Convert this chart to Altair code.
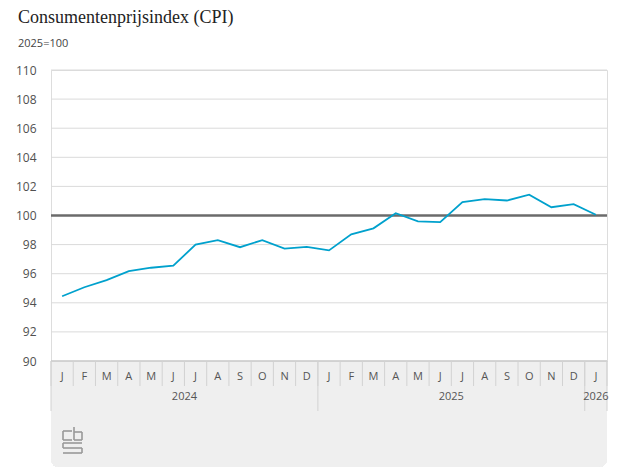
import altair as alt
import pandas as pd

months = ["J", "F", "M", "A", "M", "J", "J", "A", "S", "O", "N", "D",
          "J", "F", "M", "A", "M", "J", "J", "A", "S", "O", "N", "D",
          "J"]
years = [2024] * 12 + [2025] * 12 + [2026]
cpi = [94.45, 95.07, 95.56, 96.18, 96.41, 96.55, 98.0, 98.31, 97.82, 98.31, 97.73, 97.85,
       97.6, 98.71, 99.12, 100.16, 99.59, 99.54, 100.92, 101.13, 101.03, 101.43, 100.57, 100.78,
       100.05]
y_ticks = [90, 92, 94, 96, 98, 100, 102, 104, 106, 108, 110]

W, H = 556, 291
FONT = "Open Sans"

df = pd.DataFrame({"idx": list(range(len(months))), "month": months,
                   "year": years, "cpi": cpi})

# boundaries between months and years
bounds = pd.DataFrame({"b": [i - 0.5 for i in range(len(months) + 1)]})
year_bounds = [-0.5] + [i - 0.5 for i in range(1, len(years)) if years[i] != years[i - 1]] + [len(years) - 0.5]
ybounds = pd.DataFrame({"b": year_bounds})
ylab = df.groupby("year", as_index=False)["idx"].mean()
ylab["label"] = ylab["year"].astype(str)

xs = alt.Scale(domain=[-0.5, len(months) - 0.5], nice=False, zero=False)
ys = alt.Scale(domain=[90, 110], nice=False, zero=False)
y_axis = alt.Axis(values=y_ticks, title=None, labelAlign="right",
                  labelPadding=15, ticks=False, tickSize=0, domain=False,
                  grid=False, labelFont=FONT, labelFontSize=12,
                  labelOverlap=False, labelBaseline="middle",
                  labelColor="#505050")

base = alt.Chart(df)

bg = base.mark_rect(fill="#efefef", cornerRadiusBottomLeft=8,
                    cornerRadiusBottomRight=8).encode(
    x=alt.value(0), x2=alt.value(W), y=alt.value(H), y2=alt.value(H + 106))

grid = alt.Chart(pd.DataFrame({"v": y_ticks})).mark_rule(
    color="#dadada", strokeWidth=1).encode(
    y=alt.Y("v:Q", scale=ys, axis=y_axis),
    x=alt.value(0), x2=alt.value(W))

bottom = alt.Chart(pd.DataFrame({"v": [90]})).mark_rule(
    color="#bdbdbd", strokeWidth=1.2).encode(
    y=alt.Y("v:Q", scale=ys, axis=y_axis), x=alt.value(0), x2=alt.value(W))

msep = alt.Chart(bounds).mark_rule(color="#d2d2d2", strokeWidth=1).encode(
    x=alt.X("b:Q", scale=xs, axis=None), y=alt.value(H), y2=alt.value(H + 25))

ysep = alt.Chart(ybounds).mark_rule(color="#d2d2d2", strokeWidth=1).encode(
    x=alt.X("b:Q", scale=xs, axis=None), y=alt.value(H), y2=alt.value(H + 50))

mlab = base.mark_text(font=FONT, fontSize=11, color="#555555",
                      baseline="middle").encode(
    x=alt.X("idx:Q", scale=xs, axis=None), y=alt.value(H + 16), text="month:N")

yrlab = alt.Chart(ylab).mark_text(font=FONT, fontSize=11, color="#555555",
                                  baseline="middle").encode(
    x=alt.X("idx:Q", scale=xs, axis=None), y=alt.value(H + 36), text="label:N")

ref = alt.Chart(pd.DataFrame({"v": [100]})).mark_rule(
    color="#6b6b6b", strokeWidth=2.5).encode(
    y=alt.Y("v:Q", scale=ys, axis=y_axis), x=alt.value(0), x2=alt.value(W))

line = base.mark_line(color="#00a1cd", strokeWidth=1.8).encode(
    x=alt.X("idx:Q", scale=xs, axis=None),
    y=alt.Y("cpi:Q", scale=ys, axis=y_axis))

title = alt.Chart(pd.DataFrame({"t": ["Consumentenprijsindex (CPI)"]})).mark_text(
    font="Liberation Serif", fontSize=18, color="#222222", align="left",
    baseline="top").encode(x=alt.value(-33), y=alt.value(-61), text="t:N")

sub = alt.Chart(pd.DataFrame({"t": ["2025=100"]})).mark_text(
    font=FONT, fontSize=11, color="#444444", align="left",
    baseline="middle").encode(x=alt.value(-33), y=alt.value(-26.5), text="t:N")

# cbs logo (decorative)
logo_segments = [
    (63, 431, 72, 431), (63, 431, 63, 440), (63, 440, 72, 440),
    (74, 427, 74, 440), (74, 432, 82, 432), (82, 432, 82, 440), (74, 440, 82, 440),
    (63, 443, 82, 443), (63, 443, 63, 448), (63, 448, 82, 448),
    (82, 448, 82, 453), (63, 453, 82, 453),
]
logo_layers = []
for (x1, y1, x2, y2) in logo_segments:
    logo_layers.append(
        alt.Chart(pd.DataFrame({"a": [0]})).mark_rule(
            color="#999999", strokeWidth=1.6).encode(
            x=alt.value(x1 - 51), x2=alt.value(x2 - 51),
            y=alt.value(y1 - 70), y2=alt.value(y2 - 70)))

chart = alt.layer(bg, grid, bottom, msep, ysep, mlab, yrlab, ref, line,
                  title, sub, *logo_layers).properties(
    width=W, height=H,
    autosize=alt.AutoSizeParams(type="none"),
    padding={"left": 43, "top": 62, "right": 8, "bottom": 110},
).configure_view(stroke=None).configure(background="white")

chart.save("out.html", embed_options={"renderer": "svg", "actions": False})
